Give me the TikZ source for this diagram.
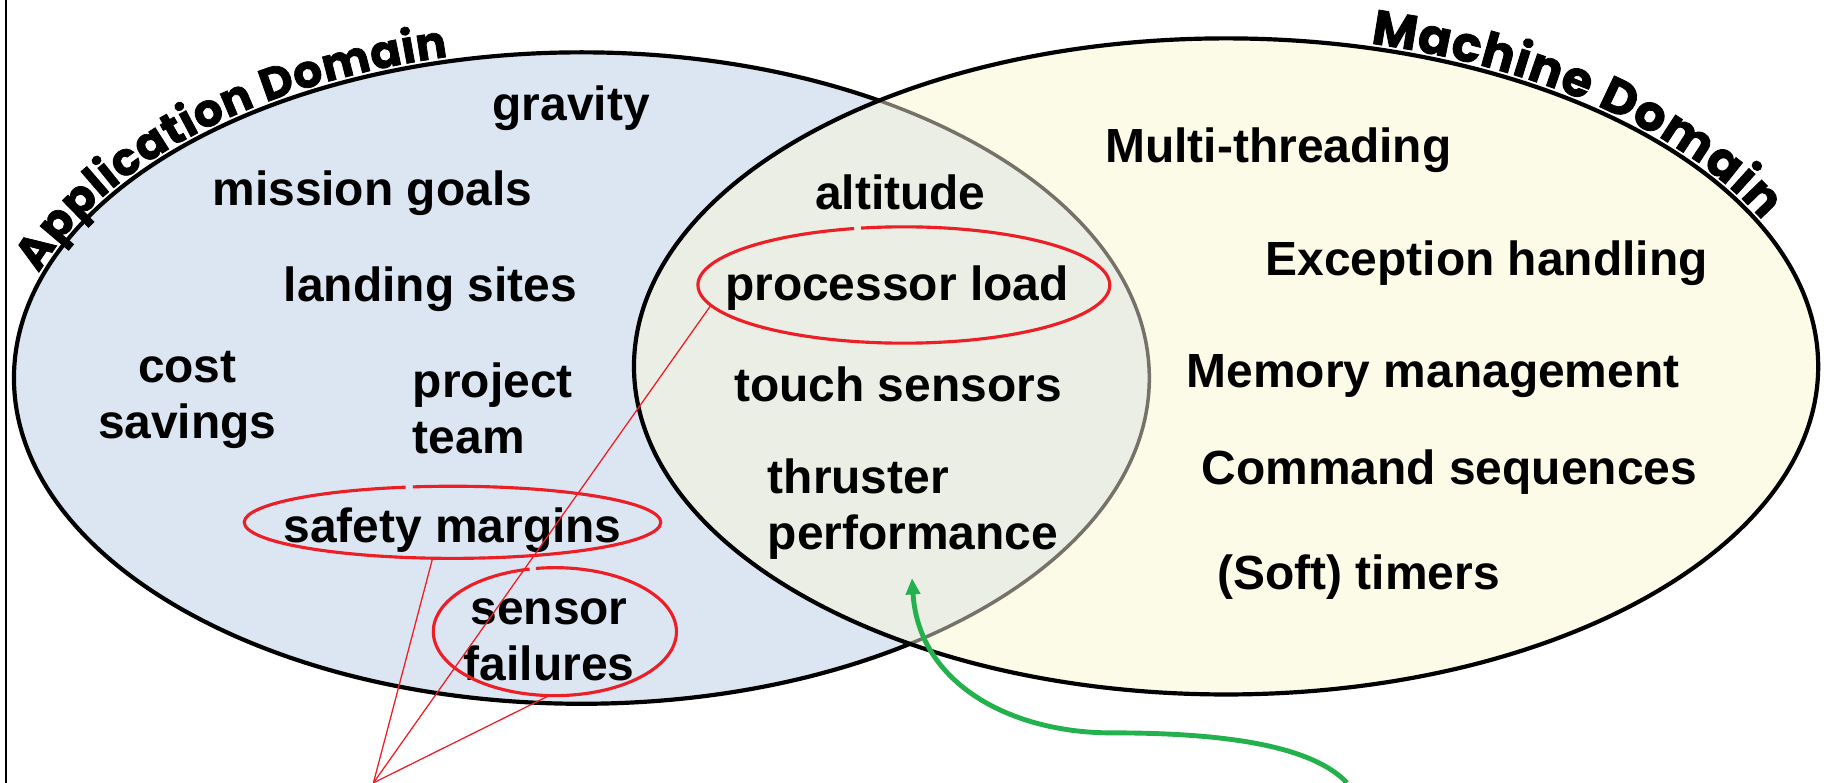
\documentclass[tikz,border=0pt]{standalone}
\usepackage{fontspec}
\setmainfont{Liberation Sans}
\newfontfamily\titlefont{Poppins}[BoldFeatures={FakeBold=1.6}]
\usetikzlibrary{shapes.geometric,arrows.meta,decorations.text}

\definecolor{appblue}{RGB}{220,230,242}
\definecolor{machyellow}{RGB}{251,251,231}
\definecolor{overlapfill}{RGB}{235,238,228}
\definecolor{edgegray}{RGB}{118,114,106}
\definecolor{ringred}{RGB}{236,30,38}
\definecolor{arrowgreen}{RGB}{34,177,76}

\tikzset{
  lbl/.style={font=\bfseries\fontsize{20.6}{24}\selectfont, inner sep=0pt, outer sep=0pt},
  domainline/.style={draw=black, line width=1.8pt},
  ringbox/.style={ellipse, draw=none, inner sep=0pt, outer sep=0pt},
  ring/.style={draw=ringred, line width=1.35pt},
  pointer/.style={draw=ringred, line width=0.55pt},
  greenarrow/.style={draw=arrowgreen, line width=2.1pt, -{Triangle[length=7pt,width=6pt]}},
}

\begin{document}
\begin{tikzpicture}[x=0.5pt, y=-0.5pt]
\useasboundingbox (0,0) rectangle (1568,673);

% application domain
\fill[appblue] (500,325) ellipse [x radius=488, y radius=280];
\draw[domainline] (500,325) ellipse [x radius=488, y radius=280];

% machine domain
\fill[machyellow] (1054,315) ellipse [x radius=509, y radius=282];

% overlap of the two domains
\begin{scope}
  \clip (500,325) ellipse [x radius=488, y radius=280];
  \fill[overlapfill] (1054,315) ellipse [x radius=509, y radius=282];
\end{scope}
\begin{scope}
  \clip (1054,315) ellipse [x radius=509, y radius=282];
  \draw[draw=edgegray, line width=1.5pt] (500,325) ellipse [x radius=488, y radius=280];
\end{scope}
\draw[domainline] (1054,315) ellipse [x radius=509, y radius=282];

% curved domain titles
\path[decorate, decoration={text along path, text align=fit to path,
  text={|\titlefont\bfseries\fontsize{19.5}{20}\selectfont|Application Domain}}]
  (500,325) ++(-161.5:492 and 284) arc [start angle=-161.5, end angle=-103.5, x radius=492, y radius=284];
\path[decorate, decoration={text along path, text align=fit to path,
  text={|\titlefont\bfseries\fontsize{21}{22}\selectfont|Machine Domain}}]
  (1054,315) ++(-76:513 and 286) arc [start angle=-76, end angle=-26, x radius=513, y radius=286];

% application-only concepts
\node[lbl] (gravity) at (491,93) {gravity};
\node[lbl] (mission) at (320,166) {mission goals};
\node[lbl] (landing) at (370,249) {landing sites};
\node[lbl, align=center] (cost) at (161,344) {cost\\savings};
\node[lbl, align=left, anchor=west] (team) at (355,351) {project\\team};
\node[lbl] (safety) at (389,456) {safety margins};
\node[lbl, align=center] (sensor) at (472,550) {sensor\\failures};

% shared concepts
\node[lbl] (altitude) at (774,165) {altitude};
\node[lbl] (procload) at (771,248) {processor load};
\node[lbl] (touch) at (772,330) {touch sensors};
\node[lbl, align=left, anchor=west] (thruster) at (660,438) {thruster\\performance};

% machine-only concepts
\node[lbl] (threads) at (1099,129) {Multi-threading};
\node[lbl] (except) at (1278,226) {Exception handling};
\node[lbl] (memory) at (1232,323) {Memory management};
\node[lbl] (commands) at (1246,406) {Command sequences};
\node[lbl] (timers) at (1168,496) {(Soft) timers};

% hand-drawn red rings
\node[ringbox, minimum width=177pt, minimum height=50pt] (plring) at (777,245) {};
\node[ringbox, minimum width=179pt, minimum height=31pt] (smring) at (389,449) {};
\node[ringbox, minimum width=104.5pt, minimum height=55pt] (sfring) at (477,543) {};
\draw[ring] (plring.center) ++(-102:177 and 50) arc [start angle=-102, end angle=256, x radius=177, y radius=50];
\draw[ring] (smring.center) ++(-101:179 and 31) arc [start angle=-101, end angle=257, x radius=179, y radius=31];
\draw[ring] (sfring.center) ++(-99:104.5 and 55) arc [start angle=-99, end angle=258, x radius=104.5, y radius=55];

% pointers to the ringed concepts
\coordinate (apex) at (321,673);
\draw[pointer] (apex) -- (smring.241);
\draw[pointer] (apex) -- (plring.186);
\draw[pointer] (apex) -- (sfring.265);

% green arrow up to thruster performance
\coordinate (gstart) at (1158,673);
\coordinate (gtip) at (784,497);
\draw[greenarrow] (gstart) .. controls (1125,638) and (1040,630) .. (955,630)
  .. controls (872,630) and (790,590) .. (gtip);

% left frame edge
\draw[line width=1pt] (5,0) -- (5,673);
\end{tikzpicture}
\end{document}
